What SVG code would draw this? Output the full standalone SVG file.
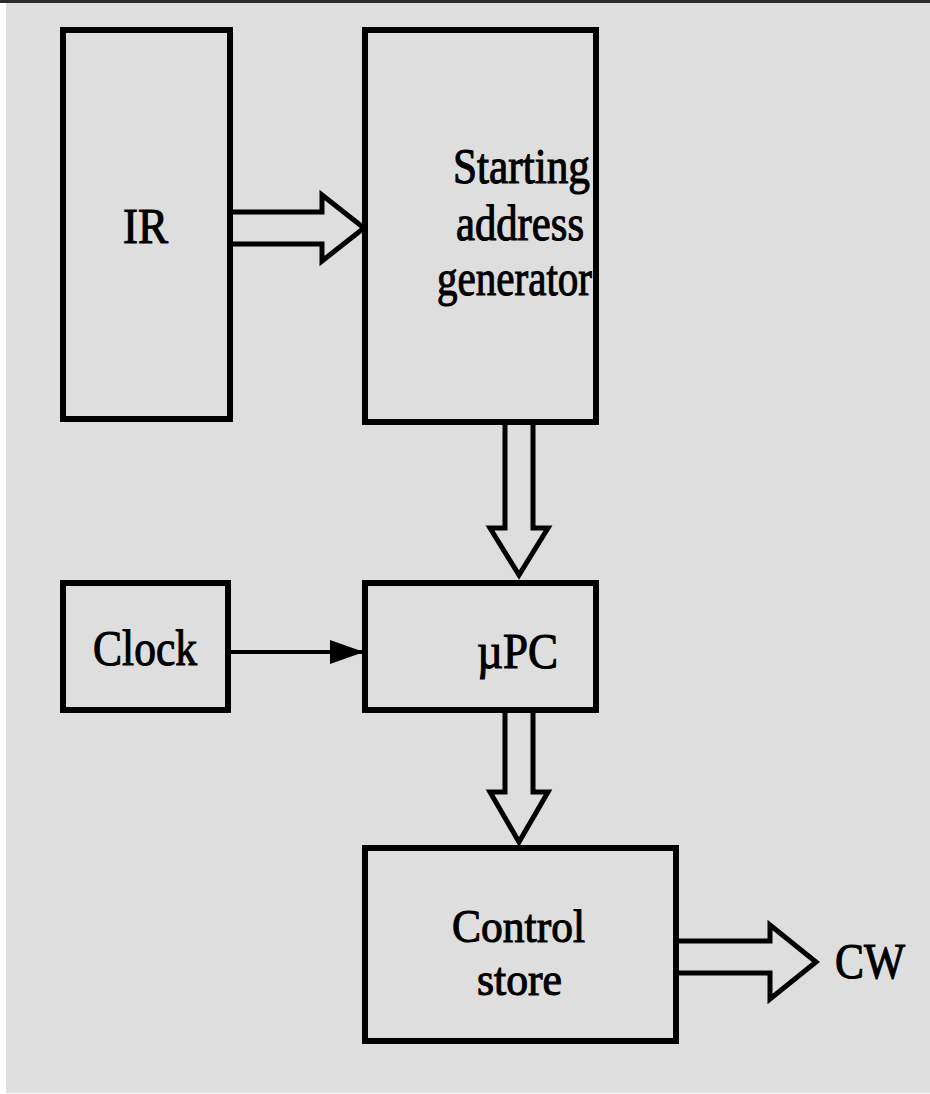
<svg xmlns="http://www.w3.org/2000/svg" width="930" height="1094" viewBox="0 0 930 1094">
<defs>
<style>
.box{fill:none;stroke:#000;stroke-width:6}
.blk{fill:#dedede;stroke:#000;stroke-width:5;stroke-linejoin:miter}
.t{font-family:"Liberation Serif","Times New Roman",serif;font-size:50px;fill:#000;stroke:#000;stroke-width:1.1}
.s{font-size:47px}
</style>
<marker id="ah" viewBox="0 0 34 24" refX="34" refY="12" markerWidth="34" markerHeight="24" markerUnits="userSpaceOnUse" orient="auto">
<path d="M0,0 L34,12 L0,24 Z" fill="#000"/>
</marker>
</defs>
<rect x="0" y="0" width="930" height="1094" fill="#fff"/>
<rect x="6" y="3" width="924" height="1090" fill="#dedede"/>
<rect x="0" y="0" width="930" height="3" fill="#2a2a2a"/>
<g id="connectors">
<polygon class="blk" points="230,212 322,212 322,195 364,228 322,261 322,244 230,244"/>
<polygon class="blk" points="505,422 533,422 533,528 548,528 519,575 490,528 505,528"/>
<polygon class="blk" points="505,710 533,710 533,792 548,792 519,842 490,792 505,792"/>
<line x1="228" y1="652" x2="364" y2="652" stroke="#000" stroke-width="4" marker-end="url(#ah)"/>
<polygon class="blk" points="676,941 770,941 770,925 816,962 770,999 770,973 676,973"/>
</g>
<g id="ir">
<rect class="box" x="63" y="30" width="167" height="389"/>
<text class="t" x="123" y="243" textLength="45" lengthAdjust="spacingAndGlyphs">IR</text>
</g>
<g id="sag">
<rect class="box" x="365" y="30" width="231" height="392"/>
<text class="t" x="453" y="183" textLength="137" lengthAdjust="spacingAndGlyphs">Starting</text>
<text class="t" x="456" y="240" textLength="128" lengthAdjust="spacingAndGlyphs">address</text>
<text class="t" x="437" y="295" textLength="155" lengthAdjust="spacingAndGlyphs">generator</text>
</g>
<g id="clock">
<rect class="box" x="63" y="583" width="165" height="127"/>
<text class="t" x="93" y="665" textLength="104" lengthAdjust="spacingAndGlyphs">Clock</text>
</g>
<g id="upc">
<rect class="box" x="365" y="583" width="231" height="127"/>
<text class="t" x="477" y="668" textLength="81" lengthAdjust="spacingAndGlyphs">µPC</text>
</g>
<g id="cs">
<rect class="box" x="365" y="848" width="311" height="193"/>
<text class="t s" x="452" y="942" textLength="133" lengthAdjust="spacingAndGlyphs">Control</text>
<text class="t s" x="477" y="995" textLength="85" lengthAdjust="spacingAndGlyphs">store</text>
</g>
<g id="cw">
<text class="t" x="835" y="978" textLength="70" lengthAdjust="spacingAndGlyphs">CW</text>
</g>
</svg>
